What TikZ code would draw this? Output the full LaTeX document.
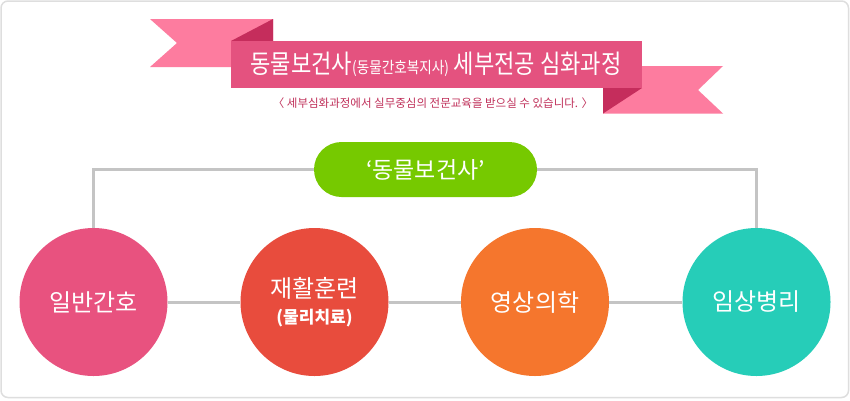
\documentclass[tikz,border=0pt]{standalone}
\usepackage{fontspec}
\usepackage{graphicx}
\newfontfamily\kr{Noto Sans CJK KR}
\definecolor{paleP}{HTML}{FD7C9F}
\definecolor{bandP}{HTML}{E4527F}
\definecolor{darkP}{HTML}{C52D5C}
\definecolor{subP}{HTML}{C0305A}
\definecolor{lineG}{HTML}{C4C4C4}
\definecolor{boxG}{HTML}{DEDEDE}
\definecolor{greenC}{HTML}{76C900}
\definecolor{pinkC}{HTML}{E8527F}
\definecolor{redC}{HTML}{E84C3D}
\definecolor{orangeC}{HTML}{F5762D}
\definecolor{tealC}{HTML}{26CDB8}
\begin{document}
\begin{tikzpicture}[x=1pt,y=-1pt,
  field/.style={circle,minimum size=148pt,inner sep=0pt,text=white,font=\kr\fontsize{24}{28}\selectfont,align=center},
  link/.style={draw=lineG,line width=3pt}]
\useasboundingbox (0,0) rectangle (850,400);
\draw[boxG,line width=1.5pt,rounded corners=7pt,fill=white] (1,1) rectangle (848.5,397.5);
% ribbon
\fill[paleP] (150,19) -- (273,19) -- (273,67) -- (150,67) -- (177,43) -- cycle;
\fill[darkP] (273,19) -- (273,41) -- (231,41) -- cycle;
\fill[paleP] (603,66) -- (723,66) -- (698,90) -- (723,113.5) -- (603,113.5) -- cycle;
\fill[darkP] (603,88) -- (642,88) -- (603,113.5) -- cycle;
\fill[bandP] (231,41) rectangle (642,88);
\node[text=white,inner sep=0pt] (title) at (436,64.5) {\scalebox{0.85}[1]{\kr\fontsize{26}{30}\selectfont 동물보건사{\fontsize{16}{19}\selectfont(동물간호복지사)} 세부전공 심화과정}};
\node[text=subP,inner sep=0pt] (sub) at (433,103) {\kr\fontsize{11.5}{13}\selectfont 〈 세부심화과정에서 실무중심의 전문교육을 받으실 수 있습니다. 〉};
% pill
\node[fill=greenC,rounded corners=27.5pt,minimum width=223pt,minimum height=55pt,inner sep=0pt,text=white,font=\kr\fontsize{23}{26}\selectfont] (pill) at (425.5,169.5) {‘동물보건사’};
% circles
\node[field,fill=pinkC] (c1) at (93.5,302) {일반간호};
\node[field,fill=redC] (c2) at (314.5,302) {재활훈련\\[-2pt]{\bfseries\fontsize{17}{20}\selectfont(물리치료)}};
\node[field,fill=orangeC] (c3) at (535,302) {영상의학};
\node[field,fill=tealC] (c4) at (756.5,302) {임상병리};
% connectors
\draw[link] (c1) -- (c2);
\draw[link] (c2) -- (c3);
\draw[link] (c3) -- (c4);
\draw[link] (pill.west) -| (c1.north);
\draw[link] (pill.east) -| (c4.north);
\end{tikzpicture}
\end{document}
